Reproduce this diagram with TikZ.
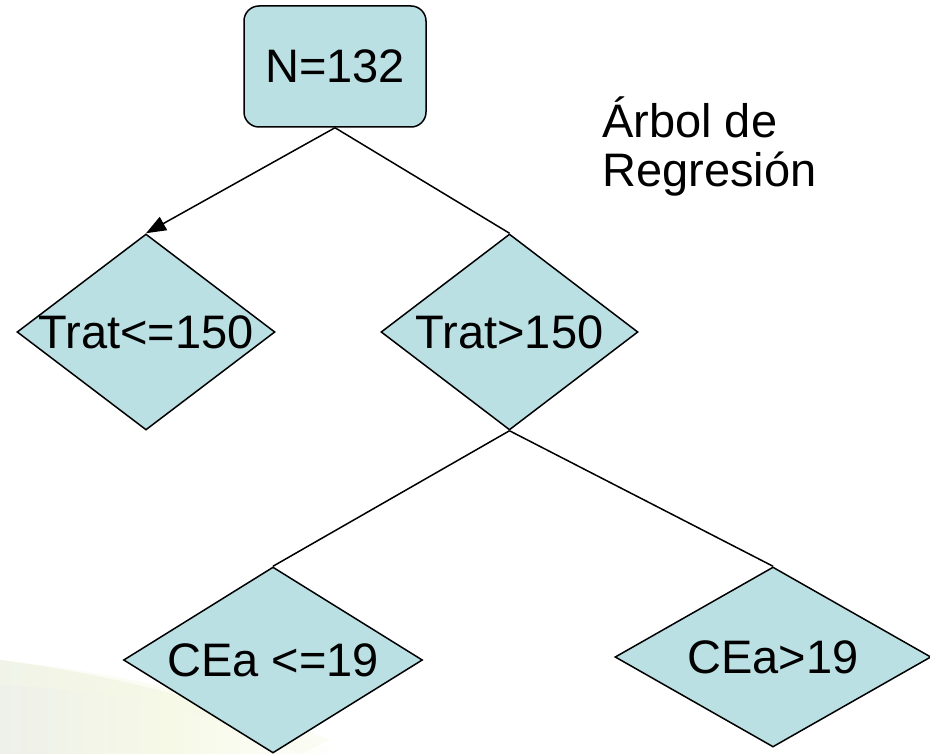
\documentclass[tikz,border=0pt]{standalone}
\usepackage{fontspec}
\setmainfont{Liberation Sans}
\usetikzlibrary{shapes.geometric,arrows.meta}
\definecolor{boxfill}{RGB}{187,224,227}
\definecolor{swooshA}{RGB}{238,240,234}
\definecolor{swooshB}{RGB}{246,249,230}
\tikzset{
  lbl/.style={font=\fontsize{47}{49}\selectfont, text=black},
  rootbox/.style={lbl, draw=black, line width=1.5pt, fill=boxfill, rounded corners=15pt,
    minimum width=182pt, minimum height=121pt, inner sep=0pt},
  decbox/.style={lbl, shape=diamond, draw=black, line width=1.5pt, fill=boxfill, inner sep=0pt},
  conn/.style={draw=black, line width=1.5pt},
}
\begin{document}
\begin{tikzpicture}[x=1pt,y=-1pt]
\useasboundingbox (0,0) rectangle (930,754);
% faint background swoosh
\shade[left color=swooshA, right color=white, middle color=swooshB]
  (0,660) .. controls (140,678) and (260,715) .. (340,754) -- (0,754) -- cycle;
\fill[swooshB, opacity=0.4]
  (0,660) .. controls (140,675) and (250,705) .. (330,740) -- (300,754) .. controls (220,715) and (120,690) .. (0,685) -- cycle;

\node[rootbox] (root) at (335,66.5) {N=132};
\node[decbox, minimum width=258pt, minimum height=196pt] (tle) at (146,332) {\makebox[0pt]{Trat<=150}};
\node[decbox, minimum width=257pt, minimum height=196pt] (tgt) at (509.5,332) {\makebox[0pt]{Trat>150}};
\node[decbox, minimum width=299pt, minimum height=186pt] (cle) at (273,660) {\makebox[0pt]{CEa <=19}};
\node[decbox, minimum width=316pt, minimum height=180pt] (cgt) at (773,657) {\makebox[0pt]{CEa>19}};

\node[lbl, anchor=base west, align=left, inner sep=0pt] (title) at (602,187) {Árbol de\\Regresión};

\draw[conn, -{Triangle[length=20pt,width=15pt]}] (root.south) -- (tle.north);
\draw[conn] (root.south) -- (tgt.north);
\draw[conn] (tgt.south) -- (cle.north);
\draw[conn] (tgt.south) -- (cgt.north);
\end{tikzpicture}
\end{document}
